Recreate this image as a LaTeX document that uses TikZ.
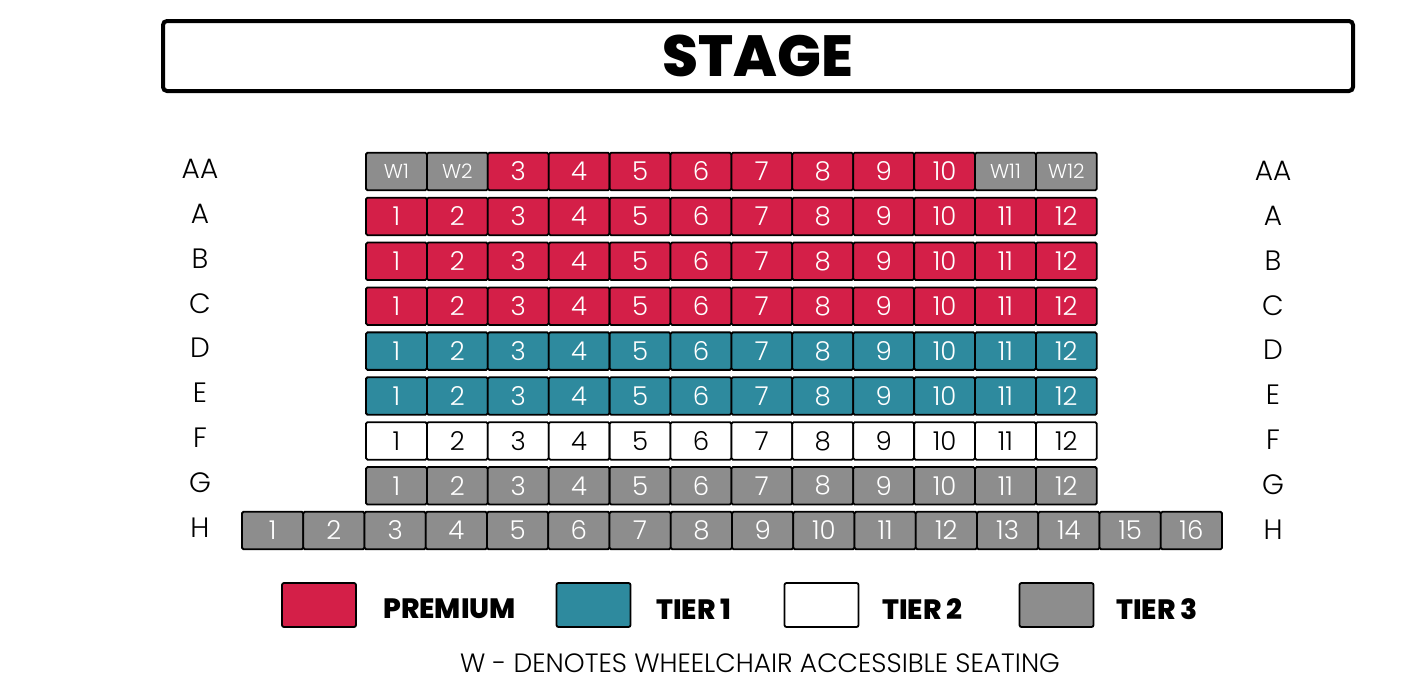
\documentclass[tikz,border=0pt]{standalone}
\usepackage{fontspec}
\setmainfont{Poppins}
\newfontfamily\lightfont{Poppins}[UprightFont={* Light}]
\newfontfamily\heavyfont{Poppins}[UprightFont={* ExtraBold}]
\definecolor{prem}{RGB}{212,31,72}
\definecolor{tier}{RGB}{46,138,158}
\definecolor{grey3}{RGB}{141,141,141}
\tikzset{
  seat/.style={draw=black, line width=1.8pt, rounded corners=1.5pt, minimum width=60.9pt, minimum height=37.5pt, inner sep=0pt, text=white, font=\lightfont\fontsize{26}{26}\selectfont},
  wseat/.style={seat, fill=grey3, font=\lightfont\fontsize{20}{20}\selectfont},
  hseat/.style={seat, fill=grey3, minimum width=61.25pt},
  rowlab/.style={font=\lightfont\fontsize{28}{28}\selectfont, inner sep=0pt},
  legbox/.style={draw=black, line width=1.8pt, rounded corners=2pt, minimum width=74pt, minimum height=44pt, inner sep=0pt},
  legtext/.style={font=\heavyfont\fontsize{28}{28}\selectfont, anchor=west, inner sep=0pt},
}
\begin{document}
\begin{tikzpicture}[x=1pt,y=-1pt]
\useasboundingbox (0,0) rectangle (1411,681);
% stage
\node[draw=black, line width=4pt, rounded corners=4pt, minimum width=1190pt, minimum height=70pt, inner sep=0pt, font=\heavyfont\fontsize{58}{58}\selectfont] (stage) at (758,56) {STAGE};
% row AA
\node[wseat] (sAA-1) at ({366+60.9*0.5},171.5) {W1};
\node[wseat] (sAA-2) at ({366+60.9*1.5},171.5) {W2};
\foreach \c in {3,...,10} {
  \node[seat, fill=prem] (sAA-\c) at ({366+60.9*(\c-0.5)},171.5) {\c};
}
\node[wseat] (sAA-11) at ({366+60.9*10.5},171.5) {W11};
\node[wseat] (sAA-12) at ({366+60.9*11.5},171.5) {W12};
% rows A-G
\foreach \r/\i/\col/\tc in {A/1/prem/white, B/2/prem/white, C/3/prem/white, D/4/tier/white, E/5/tier/white, F/6/white/black, G/7/grey3/white} {
  \foreach \c in {1,...,12} {
    \node[seat, fill=\col, text=\tc] (s\r-\c) at ({366+60.9*(\c-0.5)},{171.5+44.9*\i}) {\c};
  }
}
% row H
\foreach \c in {1,...,16} {
  \node[hseat] (sH-\c) at ({242+61.25*(\c-0.5)},530.5) {\c};
}
% row labels
\foreach \r/\i in {AA/0, A/1, B/2, C/3, D/4, E/5, F/6, G/7, H/8} {
  \node[rowlab] (L\r) at (200,{168.5+44.9*\i}) {\r};
  \node[rowlab] (R\r) at (1273,{170.5+44.9*\i}) {\r};
}
% legend
\node[legbox, fill=prem] (kP) at (319,605) {};
\node[legtext] (tP) at (383,609) {PREMIUM};
\node[legbox, fill=tier] (k1) at (593.5,605) {};
\node[legtext] (t1) at (656,609) {TIER 1};
\node[legbox, fill=white] (k2) at (821.5,605) {};
\node[legtext] (t2) at (882,609) {TIER 2};
\node[legbox, fill=grey3] (k3) at (1056.5,605) {};
\node[legtext] (t3) at (1116,609) {TIER 3};
% note
\node[font=\lightfont\fontsize{26.5}{26.5}\selectfont, inner sep=0pt] (note) at (760,663) {W - DENOTES WHEELCHAIR ACCESSIBLE SEATING};
\end{tikzpicture}
\end{document}
